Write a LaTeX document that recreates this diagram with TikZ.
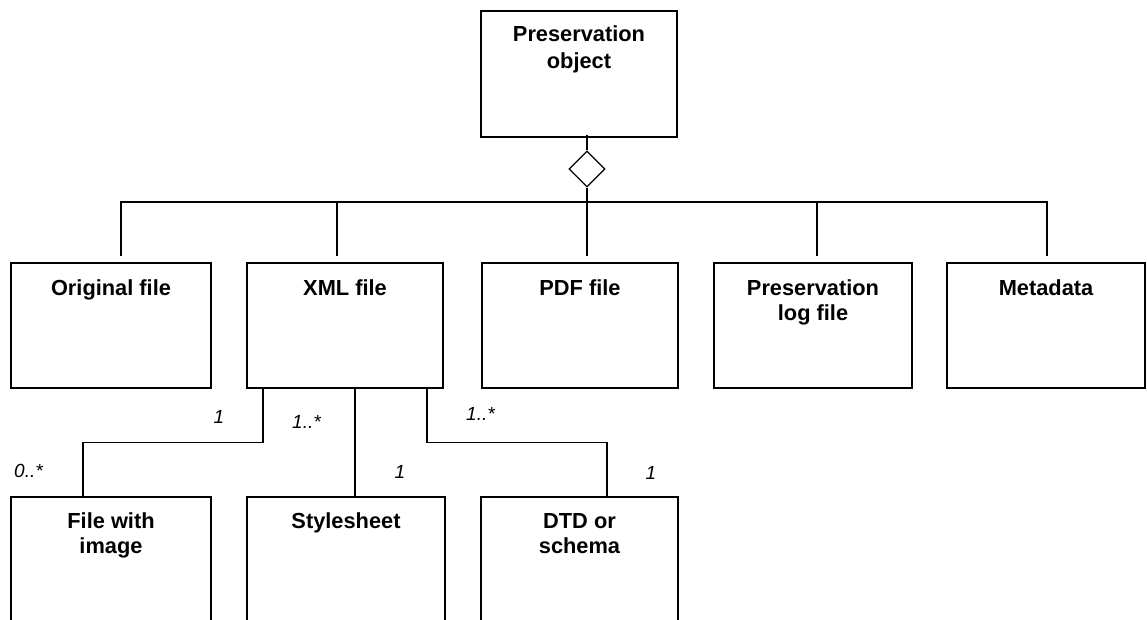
\documentclass[tikz,border=0pt]{standalone}
\usepackage{fontspec}
\setmainfont{Liberation Sans}
\usetikzlibrary{shapes.geometric}
\newcommand\bxt[1]{\parbox[t]{190pt}{\centering #1}}
\begin{document}
\begin{tikzpicture}[x=1pt,y=-1pt,
  box/.style={draw, line width=1.3pt, inner sep=0pt, rectangle},
  lbl/.style={inner sep=0pt, anchor=base, font=\bfseries\fontsize{21.8}{25}\selectfont},
  mult/.style={inner sep=0pt, anchor=base, font=\itshape\fontsize{19}{22}\selectfont},
  conn/.style={line width=1.3pt}]
\useasboundingbox (0,0) rectangle (1147,619);
\clip (0,0) rectangle (1147,619);
% boxes
\node[box, minimum width=196pt, minimum height=126pt] (top) at (579,74) {};
\node[box, minimum width=200pt, minimum height=125pt] (orig) at (111,325.5) {};
\node[box, minimum width=196pt, minimum height=125pt] (xml) at (345,325.5) {};
\node[box, minimum width=196pt, minimum height=125pt] (pdf) at (580,325.5) {};
\node[box, minimum width=198pt, minimum height=125pt] (log) at (813,325.5) {};
\node[box, minimum width=198pt, minimum height=125pt] (meta) at (1046,325.5) {};
\node[box, minimum width=200pt, minimum height=200pt] (fwi) at (111,597) {};
\node[box, minimum width=198pt, minimum height=200pt] (sty) at (346,597) {};
\node[box, minimum width=197pt, minimum height=200pt] (dtd) at (579.5,597) {};
% box texts
\node[lbl, font=\bfseries\fontsize{21.8}{27}\selectfont] (toptxt) at ([yshift=-31.5pt]top.north) {\bxt{Preservation\\object}};
\node[lbl] (origtxt) at ([yshift=-33pt]orig.north) {\bxt{Original file}};
\node[lbl] (xmltxt) at ([yshift=-33pt]xml.north) {\bxt{XML file}};
\node[lbl] (pdftxt) at ([yshift=-33pt]pdf.north) {\bxt{PDF file}};
\node[lbl] (logtxt) at ([yshift=-33pt]log.north) {\bxt{Preservation\\log file}};
\node[lbl] (metatxt) at ([yshift=-33pt]meta.north) {\bxt{Metadata}};
\node[lbl] (fwitxt) at ([yshift=-32pt]fwi.north) {\bxt{File with\\image}};
\node[lbl] (stytxt) at ([yshift=-32pt]sty.north) {\bxt{Stylesheet}};
\node[lbl] (dtdtxt) at ([yshift=-32pt]dtd.north) {\bxt{DTD or\\schema}};
% aggregation
\node[draw, diamond, aspect=1, line width=1.3pt, fill=white, inner sep=0pt,
      minimum width=36pt, minimum height=36pt] (dia) at (587,169) {};
\coordinate (bus) at (587,202);
\draw[conn] ([xshift=8pt,yshift=3pt]top.south) -- (dia.north);
\draw[conn] (dia.south) -- ([xshift=7pt,yshift=6pt]pdf.north);
\draw[conn] ([xshift=10pt,yshift=6pt]orig.north) |- (bus);
\draw[conn] ([xshift=-8pt,yshift=6pt]xml.north) |- (bus);
\draw[conn] ([xshift=4pt,yshift=6pt]log.north) |- (bus);
\draw[conn] ([xshift=1pt,yshift=6pt]meta.north) |- (bus);
% XML composition
\draw[conn] ([xshift=-82pt]xml.south) -- ++(0,54) -| ([xshift=-28pt]fwi.north);
\draw[conn] ([xshift=10pt]xml.south) -- ([xshift=9pt]sty.north);
\draw[conn] ([xshift=82pt]xml.south) -- ++(0,54) -| ([xshift=27.5pt]dtd.north);
% multiplicities
\node[mult] (m1) at (219,423) {1};
\node[mult, anchor=base west] (m2) at (292,428) {1..*};
\node[mult, anchor=base west] (m3) at (466,420) {1..*};
\node[mult, anchor=base west] (m4) at (14,477) {0..*};
\node[mult] (m5) at (400,478) {1};
\node[mult] (m6) at (651,479) {1};
\end{tikzpicture}
\end{document}
